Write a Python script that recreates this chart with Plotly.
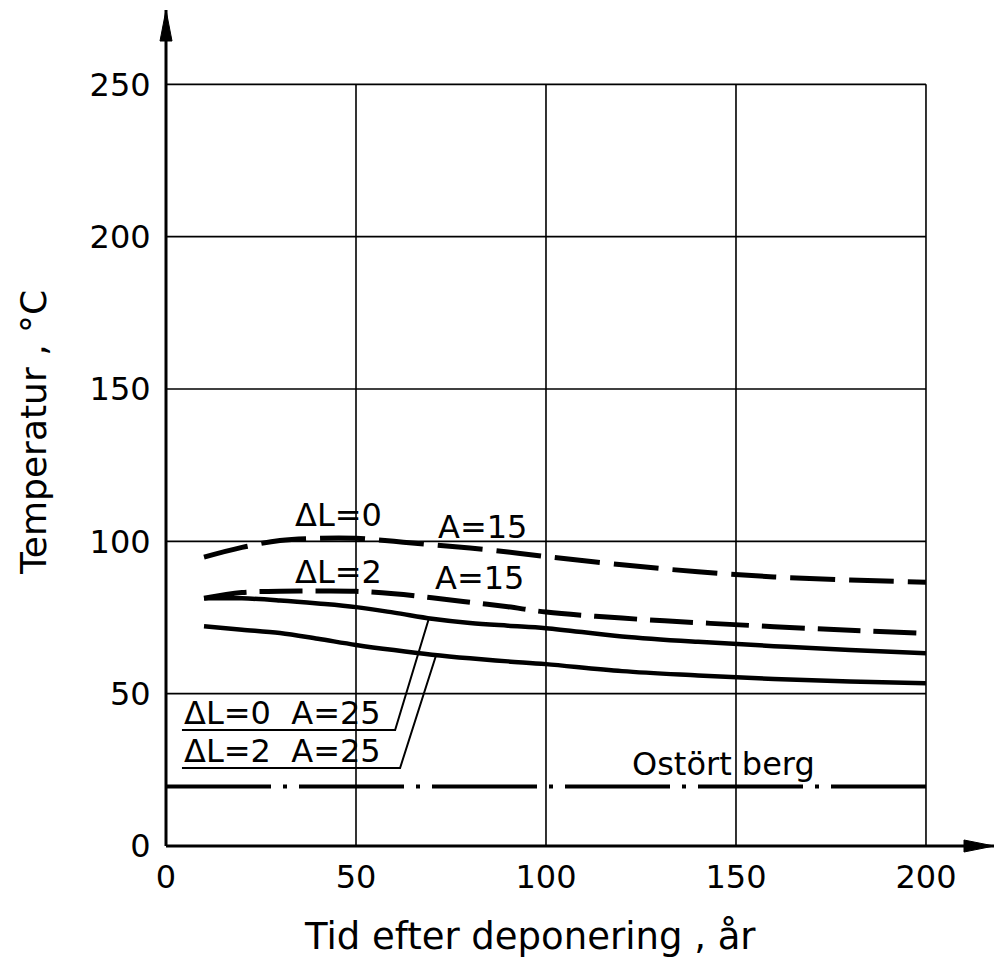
import numpy as np
import plotly.graph_objects as go

# ---------------- data ----------------
years = [10, 20, 30, 40, 50, 60, 70, 80, 90, 100, 120, 140, 160, 180, 200]
dl0_a15 = [94.8, 98.0, 100.3, 101.0, 101.0, 100.0, 98.9, 97.8, 96.5, 95.0, 92.3, 90.0, 88.3, 87.3, 86.6]
dl2_a15 = [81.3, 83.2, 83.6, 83.7, 83.6, 82.8, 81.5, 80.0, 78.5, 76.8, 74.8, 73.3, 72.0, 70.8, 69.8]
dl0_a25 = [81.3, 81.3, 80.6, 79.6, 78.4, 76.6, 74.6, 73.2, 72.3, 71.5, 68.8, 67.0, 65.6, 64.3, 63.3]
dl2_a25 = [72.1, 71.0, 69.9, 68.0, 66.0, 64.3, 62.8, 61.6, 60.6, 59.7, 57.4, 56.0, 54.8, 54.0, 53.4]
rock_x = [0, 200]
rock_y = [19.5, 19.5]

x_ticks = [0, 50, 100, 150, 200]
y_ticks = [0, 50, 100, 150, 200, 250]

# ---------------- layout constants ----------------
FONT = "DejaVu Sans"
X_MAX = 217.9
Y_MAX = 274.4
W, H = 994, 964
L, R, T, B = 166, 0, 10, 118

fig = go.Figure()

# grid (drawn only over the 0..200 / 0..250 box)
for xv in x_ticks[1:]:
    fig.add_shape(type="line", xref="x", yref="y", x0=xv, x1=xv, y0=0, y1=y_ticks[-1],
                  line=dict(color="black", width=1.6), layer="below")
for yv in y_ticks[1:]:
    fig.add_shape(type="line", xref="x", yref="y", x0=0, x1=x_ticks[-1], y0=yv, y1=yv,
                  line=dict(color="black", width=1.6), layer="below")

# curves
fig.add_trace(go.Scatter(x=years, y=dl0_a15, mode="lines", line_shape="spline",
                         line=dict(color="black", width=5, dash="45px,14px"), name="ΔL=0 A=15"))
fig.add_trace(go.Scatter(x=years, y=dl2_a15, mode="lines", line_shape="spline",
                         line=dict(color="black", width=5, dash="43px,13px"), name="ΔL=2 A=15"))
fig.add_trace(go.Scatter(x=years, y=dl0_a25, mode="lines", line_shape="spline",
                         line=dict(color="black", width=4.5), name="ΔL=0 A=25"))
fig.add_trace(go.Scatter(x=years, y=dl2_a25, mode="lines", line_shape="spline",
                         line=dict(color="black", width=4.5), name="ΔL=2 A=25"))
fig.add_trace(go.Scatter(x=rock_x, y=rock_y, mode="lines",
                         line=dict(color="black", width=4, dash="105px,12px,4px,12px"),
                         name="Ostört berg"))

# leader lines for the A=25 labels (underline + pointer to curve)
ul_x0 = 4.2
leaders = [
    (dl0_a25, 38.1, 60.3, 69.2),
    (dl2_a25, 25.6, 61.6, 71.1),
]
for series, uy, ux1, cx in leaders:
    cy = float(np.interp(cx, years, series))
    fig.add_trace(go.Scatter(x=[ul_x0, ux1, cx], y=[uy, uy, cy], mode="lines",
                             line=dict(color="black", width=2), hoverinfo="skip"))

# labels
lab_font = dict(family=FONT, size=32, color="black")
labels = [
    ("ΔL=0", 45.3, 108.6, "center"),
    ("A=15", 83.4, 104.7, "center"),
    ("ΔL=2", 45.5, 89.9, "center"),
    ("A=15", 82.4, 88.0, "center"),
    ("ΔL=0  A=25", ul_x0, 43.6, "left"),
    ("ΔL=2  A=25", ul_x0, 31.2, "left"),
    ("Ostört berg", 146.6, 26.8, "center"),
]
for txt, lx, ly, anc in labels:
    fig.add_annotation(x=lx, y=ly, xref="x", yref="y", text=txt, showarrow=False,
                       xanchor=anc, yanchor="middle", font=lab_font)

# axes lines with arrow heads (paper refs, unclipped)
fig.add_shape(type="line", xref="paper", yref="paper", x0=0, x1=1, y0=0, y1=0,
              line=dict(color="black", width=3))
fig.add_shape(type="line", xref="paper", yref="paper", x0=0, x1=0, y0=0, y1=1,
              line=dict(color="black", width=3))
fig.add_shape(type="path", xref="paper", yref="paper", xsizemode="pixel", ysizemode="pixel",
              xanchor=1, yanchor=0, path="M0,0 L-30,6 L-30,-6 Z",
              fillcolor="black", line=dict(color="black", width=1))
fig.add_shape(type="path", xref="paper", yref="paper", xsizemode="pixel", ysizemode="pixel",
              xanchor=0, yanchor=1, path="M0,0 L-6,-31 L6,-31 Z",
              fillcolor="black", line=dict(color="black", width=1))

# axis titles
title_font = dict(family=FONT, size=37, color="black")
fig.add_annotation(xref="paper", yref="paper", x=(530 - L) / (W - L - R), y=(H - B - 936) / (H - T - B),
                   text="Tid efter deponering , år", showarrow=False,
                   xanchor="center", yanchor="middle", font=title_font)
fig.add_annotation(xref="paper", yref="paper", x=(34 - L) / (W - L - R), y=(H - B - 433) / (H - T - B),
                   text="Temperatur , °C", showarrow=False, textangle=-90,
                   xanchor="center", yanchor="middle", font=dict(family=FONT, size=36, color="black"))

tick_font = dict(family=FONT, size=32, color="black")
fig.update_xaxes(range=[0, X_MAX], tickvals=x_ticks, ticktext=[str(v) for v in x_ticks],
                 showgrid=False, zeroline=False, showline=False,
                 ticks="outside", ticklen=3, tickcolor="rgba(0,0,0,0)", tickfont=tick_font,
                 fixedrange=True)
fig.update_yaxes(range=[0, Y_MAX], tickvals=y_ticks, ticktext=[str(v) for v in y_ticks],
                 showgrid=False, zeroline=False, showline=False,
                 ticks="outside", ticklen=8, tickcolor="rgba(0,0,0,0)", tickfont=tick_font,
                 fixedrange=True)

fig.update_layout(width=W, height=H, margin=dict(l=L, r=R, t=T, b=B),
                  plot_bgcolor="white", paper_bgcolor="white", showlegend=False)

fig.write_html("out.html")
